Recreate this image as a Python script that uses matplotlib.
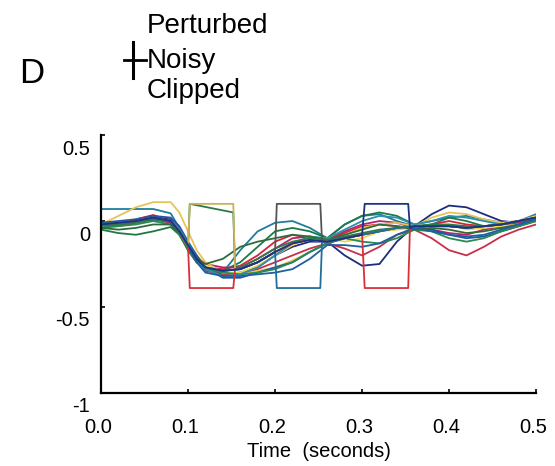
import matplotlib
matplotlib.use("Agg")
import matplotlib.pyplot as plt
from matplotlib.lines import Line2D
from matplotlib.transforms import ScaledTranslation

plt.rcParams['font.family'] = ['Liberation Sans', 'DejaVu Sans']

# common time grid (seconds)
t = [0.0, 0.02, 0.04, 0.06, 0.08, 0.09, 0.10, 0.11, 0.12, 0.14, 0.16, 0.18, 0.20, 0.22,
     0.24, 0.26, 0.28, 0.30, 0.32, 0.34, 0.36, 0.38, 0.40, 0.42, 0.44, 0.46, 0.48, 0.50]

# noisy traces
teal1 = [0.07, 0.07, 0.07, 0.07, 0.045, -0.04, -0.16, -0.24, -0.28, -0.30, -0.17, -0.06, -0.01, 0.0,
         -0.04, -0.10, -0.02, 0.03, 0.04, 0.0, -0.03, -0.02, 0.02, 0.03, 0.01, -0.01, 0.0, 0.04]
red1 = [-0.035, -0.02, 0.01, 0.035, 0.0, -0.07, -0.17, -0.24, -0.27, -0.28, -0.26, -0.20, -0.12, -0.08,
        -0.10, -0.11, -0.07, -0.03, -0.02, -0.03, -0.04, -0.02, 0.0, -0.02, -0.03, -0.02, 0.0, 0.02]
navy1 = [-0.02, -0.01, 0.0, 0.02, 0.01, -0.05, -0.14, -0.22, -0.28, -0.31, -0.30, -0.27, -0.20, -0.15,
         -0.12, -0.12, -0.20, -0.26, -0.25, -0.12, -0.03, 0.04, 0.09, 0.08, 0.04, 0.0, -0.01, 0.03]
green1 = [-0.05, -0.07, -0.08, -0.06, -0.035, -0.08, -0.17, -0.24, -0.27, -0.29, -0.24, -0.15, -0.06, -0.04,
          -0.06, -0.10, -0.02, 0.03, 0.05, 0.03, -0.02, 0.0, 0.02, 0.0, -0.03, -0.04, -0.02, 0.02]
red2 = [-0.04, -0.03, -0.01, 0.01, -0.01, -0.07, -0.15, -0.23, -0.29, -0.31, -0.31, -0.28, -0.24, -0.20,
        -0.16, -0.13, -0.16, -0.20, -0.15, -0.08, -0.05, -0.10, -0.17, -0.20, -0.15, -0.09, -0.05, -0.02]
magenta1 = [-0.03, -0.02, 0.0, 0.02, -0.01, -0.06, -0.14, -0.21, -0.25, -0.27, -0.27, -0.22, -0.16, -0.10,
            -0.09, -0.11, -0.06, -0.02, 0.0, -0.01, -0.04, -0.05, -0.07, -0.08, -0.05, -0.03, -0.01, 0.01]
yellow1 = [-0.02, 0.03, 0.08, 0.11, 0.11, 0.05, -0.06, -0.17, -0.24, -0.30, -0.31, -0.29, -0.27, -0.23,
           -0.18, -0.13, -0.08, -0.04, -0.02, -0.01, -0.03, 0.02, 0.05, 0.04, 0.01, -0.01, 0.0, 0.03]
yellow2 = [-0.02, -0.01, 0.01, 0.02, 0.0, -0.05, -0.13, -0.20, -0.26, -0.30, -0.30, -0.26, -0.20, -0.14,
           -0.10, -0.10, -0.12, -0.10, -0.06, -0.05, -0.04, -0.03, -0.02, -0.05, -0.04, -0.03, -0.02, 0.0]
blue1 = [-0.01, 0.0, 0.01, 0.03, 0.02, -0.03, -0.12, -0.20, -0.27, -0.33, -0.33, -0.30, -0.27, -0.24,
         -0.18, -0.13, -0.10, -0.08, -0.06, -0.04, -0.03, -0.05, -0.08, -0.10, -0.09, -0.06, -0.03, 0.0]
green2 = [-0.03, -0.03, -0.02, 0.0, -0.02, -0.08, -0.16, -0.24, -0.28, -0.30, -0.31, -0.30, -0.28, -0.24,
          -0.18, -0.13, -0.10, -0.12, -0.13, -0.10, -0.05, -0.06, -0.10, -0.12, -0.10, -0.06, -0.03, 0.0]
teal2 = [-0.02, -0.01, 0.0, 0.01, 0.0, -0.05, -0.13, -0.22, -0.28, -0.32, -0.31, -0.27, -0.20, -0.13,
         -0.09, -0.10, -0.05, 0.0, 0.03, 0.02, -0.02, 0.0, 0.03, 0.02, 0.0, -0.02, 0.0, 0.02]
darkgreen1 = [-0.04, -0.05, -0.04, -0.02, -0.02, -0.07, -0.15, -0.22, -0.25, -0.22, -0.15, -0.12, -0.10, -0.08,
              -0.09, -0.11, -0.08, -0.05, -0.02, -0.03, -0.05, -0.04, -0.05, -0.07, -0.06, -0.04, -0.02, 0.01]
blue2 = [-0.01, -0.01, 0.0, 0.01, 0.0, -0.06, -0.15, -0.24, -0.30, -0.32, -0.32, -0.31, -0.30, -0.28,
         -0.22, -0.14, -0.14, -0.15, -0.13, -0.08, -0.04, -0.06, -0.08, -0.09, -0.08, -0.05, -0.02, 0.01]

noisy = [(teal1, '#1f7d9c'), (red1, '#d3243a'), (navy1, '#1c2d7e'), (green1, '#1d7a45'),
         (red2, '#c8304a'), (magenta1, '#b8246a'), (yellow1, '#e6c455'), (yellow2, '#efd64a'),
         (blue1, '#2253a8'), (green2, '#2a8a50'), (teal2, '#2d8fb0'), (darkgreen1, '#2f6b3a'),
         (blue2, '#1e5fa0')]

# perturbed / clipped traces with square pulses
t_box1 = [0.0, 0.02, 0.04, 0.06, 0.08, 0.09, 0.10, 0.102, 0.152, 0.154, 0.16, 0.18, 0.20, 0.22,
          0.24, 0.26, 0.28, 0.30, 0.32, 0.34, 0.36, 0.38, 0.40, 0.42, 0.44, 0.46, 0.48, 0.50]
yellow_up1 = [-0.02, -0.01, 0.0, 0.02, 0.0, -0.06, -0.15, 0.10, 0.10, -0.28, -0.28, -0.24, -0.18, -0.13,
              -0.11, -0.12, -0.10, -0.08, -0.06, -0.04, -0.03, -0.03, -0.03, -0.04, -0.03, -0.02, 0.0, 0.02]
green_up1 = [-0.02, -0.02, -0.01, 0.01, 0.0, -0.06, -0.15, 0.10, 0.05, -0.27, -0.27, -0.22, -0.16, -0.12,
             -0.10, -0.11, -0.09, -0.07, -0.05, -0.04, -0.03, -0.02, -0.02, -0.03, -0.03, -0.02, 0.0, 0.02]

t_box13 = [0.0, 0.02, 0.04, 0.06, 0.08, 0.09, 0.10, 0.102, 0.152, 0.154, 0.16, 0.18, 0.20, 0.22,
           0.24, 0.26, 0.28, 0.30, 0.303, 0.353, 0.355, 0.36, 0.38, 0.40, 0.42, 0.44, 0.46, 0.48, 0.50]
red_down = [-0.02, -0.01, 0.0, 0.02, 0.0, -0.06, -0.15, -0.39, -0.39, -0.28, -0.28, -0.24, -0.18, -0.13,
            -0.11, -0.12, -0.10, -0.08, -0.39, -0.39, -0.04, -0.03, -0.03, -0.03, -0.04, -0.03, -0.02, 0.0, 0.02]

t_box2 = [0.0, 0.02, 0.04, 0.06, 0.08, 0.09, 0.10, 0.11, 0.12, 0.14, 0.16, 0.18, 0.20, 0.202,
          0.252, 0.254, 0.26, 0.28, 0.30, 0.32, 0.34, 0.36, 0.38, 0.40, 0.42, 0.44, 0.46, 0.48, 0.50]
gray_up = [-0.02, -0.01, 0.0, 0.02, 0.0, -0.06, -0.14, -0.22, -0.27, -0.29, -0.28, -0.24, -0.18, 0.10,
           0.10, -0.12, -0.12, -0.10, -0.08, -0.06, -0.04, -0.03, -0.03, -0.03, -0.04, -0.03, -0.02, 0.0, 0.02]
teal_down = [-0.02, -0.01, 0.0, 0.02, 0.0, -0.06, -0.14, -0.22, -0.27, -0.29, -0.28, -0.24, -0.18, -0.39,
             -0.39, -0.12, -0.12, -0.10, -0.08, -0.06, -0.04, -0.03, -0.03, -0.03, -0.04, -0.03, -0.02, 0.0, 0.02]

t_box3 = [0.0, 0.02, 0.04, 0.06, 0.08, 0.09, 0.10, 0.11, 0.12, 0.14, 0.16, 0.18, 0.20, 0.22,
          0.24, 0.26, 0.28, 0.30, 0.303, 0.353, 0.355, 0.36, 0.38, 0.40, 0.42, 0.44, 0.46, 0.48, 0.50]
navy_up = [-0.02, -0.01, 0.0, 0.02, 0.0, -0.06, -0.14, -0.22, -0.27, -0.29, -0.28, -0.24, -0.18, -0.13,
           -0.11, -0.12, -0.10, -0.08, 0.10, 0.10, -0.04, -0.03, -0.03, -0.03, -0.04, -0.03, -0.02, 0.0, 0.02]

pulses = [(t_box1, green_up1, '#2a7a4a'), (t_box1, yellow_up1, '#c9b25a'),
          (t_box13, red_down, '#d8303a'), (t_box2, gray_up, '#555555'),
          (t_box2, teal_down, '#1f6f9a'), (t_box3, navy_up, '#1c3480')]

xticks = [0.0, 0.1, 0.2, 0.3, 0.4, 0.5]
xtick_labels = ['0.0', '0.1', '0.2', '0.3', '0.4', '0.5']
yticks = [0.5, 0, -0.5, -1]
ytick_labels = ['0.5', '0', '-0.5', '-1']

fig = plt.figure(figsize=(5.55, 4.66), dpi=100)
ax = fig.add_axes([0.182, 0.157, 0.784, 0.553])

for vals, col in noisy:
    ax.plot(t, vals, color=col, lw=1.3)
for tt, vals, col in pulses:
    ax.plot(tt, vals, color=col, lw=1.3)

ax.set_xlim(0, 0.5)
ax.set_ylim(-1, 0.5)
ax.spines['top'].set_visible(False)
ax.spines['right'].set_visible(False)
ax.spines['left'].set_linewidth(1.6)
ax.spines['bottom'].set_linewidth(1.6)
ax.set_xticks(xticks)
ax.set_xticklabels(xtick_labels)
ax.set_yticks(yticks)
ax.set_yticklabels(ytick_labels)
ax.tick_params(direction='in', length=3, width=1.2, labelsize=14.5)
ax.tick_params(axis='x', pad=18)
ax.tick_params(axis='y', pad=8)
ax.set_xlabel('Time  (seconds)', fontsize=14.5, labelpad=4)

# scanned labels sit a little below their ticks
off = ScaledTranslation(0, -0.12, fig.dpi_scale_trans)
for lab in ax.get_yticklabels():
    lab.set_transform(lab.get_transform() + off)
xoff = ScaledTranslation(-0.03, 0, fig.dpi_scale_trans)
for lab in ax.get_xticklabels():
    lab.set_transform(lab.get_transform() + xoff)

fig.text(32 / 555, 1 - 83 / 466, 'D', fontsize=25, ha='center', va='baseline')
fig.text(147 / 555, 1 - 33 / 466, 'Perturbed', fontsize=20, va='baseline')
fig.text(147 / 555, 1 - 68 / 466, 'Noisy', fontsize=20, va='baseline')
fig.text(147 / 555, 1 - 98 / 466, 'Clipped', fontsize=20, va='baseline')
fig.add_artist(Line2D([133 / 555, 133 / 555], [1 - 42 / 466, 1 - 78 / 466], color='black', lw=2.2))
fig.add_artist(Line2D([124 / 555, 146 / 555], [1 - 60 / 466, 1 - 60 / 466], color='black', lw=2.0))

fig.savefig('out.png', dpi=100)
